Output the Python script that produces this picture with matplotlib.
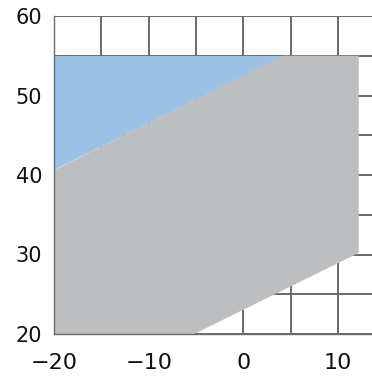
import matplotlib
matplotlib.use("Agg")
import matplotlib.pyplot as plt
from matplotlib.patches import Polygon

# data
gray_x = [-20, -5.2, 12.2, 12.2, 4.15, -20]
gray_y = [20, 20, 30.2, 55, 55, 40.6]
blue_x = [-20, -20, 4.15]
blue_y = [40.6, 55, 55]
xticks = [-20, -10, 0, 10]
yticks = [20, 30, 40, 50, 60]
xgrid = [-20, -15, -10, -5, 0, 5, 10, 15]
ygrid = [20, 25, 30, 35, 40, 45, 50, 55, 60]

plt.rcParams['font.family'] = ['DejaVu Sans']
fig = plt.figure(figsize=(3.72, 3.77), dpi=100)
ax = fig.add_axes([54/372, 1-334/377, 1-54/372, (334-16)/377])
ax.set_xlim(-20, 13.6)
ax.set_ylim(20, 60)

gc = '#6a6a6a'
for gx in xgrid:
    ax.axvline(gx, color=gc, lw=1.4, zorder=1)
for gy in ygrid:
    ax.axhline(gy, color=gc, lw=1.4, zorder=1)

ax.add_patch(Polygon(list(zip(gray_x, gray_y)), closed=True, facecolor='#bdbec0', edgecolor='none', zorder=2))
ax.add_patch(Polygon(list(zip(blue_x, blue_y)), closed=True, facecolor='#9cc3e5', edgecolor='none', zorder=2))

for s in ['top', 'right']:
    ax.spines[s].set_visible(False)
for s in ['left', 'bottom']:
    ax.spines[s].set_color(gc)
    ax.spines[s].set_linewidth(1.0)
    ax.spines[s].set_zorder(3)

ax.set_xticks(xticks)
ax.set_yticks(yticks)
ax.tick_params(length=0, colors='#111111')
ax.tick_params(axis='x', pad=13.5, labelsize=16)
ax.tick_params(axis='y', pad=8.5, labelsize=15)

fig.savefig('out.png', dpi=100)
